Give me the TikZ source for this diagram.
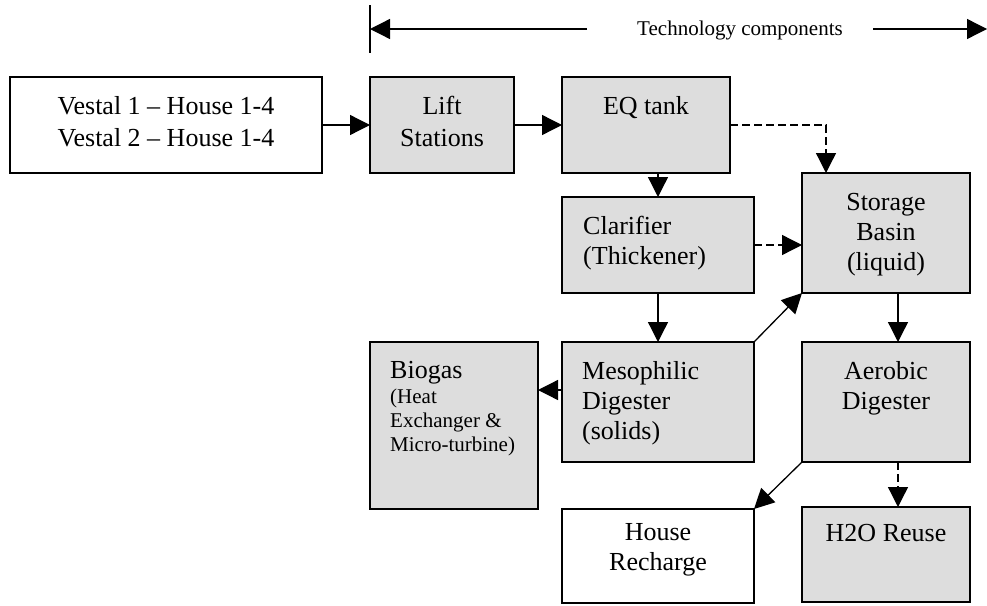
\documentclass[tikz,border=0pt]{standalone}
\usepackage{fontspec}
\setmainfont{Liberation Serif}
\usetikzlibrary{arrows.meta}
\definecolor{boxgray}{RGB}{221,221,221}
\begin{document}
\begin{tikzpicture}[x=1pt,y=-1pt,
  box/.style={draw=black, line width=2pt, fill=boxgray, inner sep=0pt, outer sep=0pt},
  wbox/.style={box, fill=white},
  big/.style={font=\fontsize{26}{30}\selectfont, inner sep=0pt},
  bigwide/.style={font=\fontsize{26}{32}\selectfont, inner sep=0pt},
  small/.style={font=\fontsize{21}{24}\selectfont, inner sep=0pt},
  conn/.style={line width=1.3pt, -{Triangle[length=20pt,width=20pt]}},
  dconn/.style={conn, dash pattern=on 8pt off 4pt},
  plain/.style={line width=1.3pt},
]
\useasboundingbox (0,0) rectangle (987,605);

% boxes
\node[wbox, minimum width=312pt, minimum height=96pt] (vestal) at (166,125) {};
\node[box, minimum width=144pt, minimum height=96pt] (lift) at (442,125) {};
\node[box, minimum width=168pt, minimum height=96pt] (eq) at (646,125) {};
\node[box, minimum width=192pt, minimum height=96pt] (clar) at (658,245) {};
\node[box, minimum width=168pt, minimum height=120pt] (stor) at (886,233) {};
\node[box, minimum width=192pt, minimum height=120pt] (meso) at (658,402) {};
\node[box, minimum width=168pt, minimum height=167pt] (bio) at (454,425.5) {};
\node[box, minimum width=168pt, minimum height=120pt] (aero) at (886,402) {};
\node[wbox, minimum width=192pt, minimum height=94pt] (house) at (658,556) {};
\node[box, minimum width=168pt, minimum height=95pt] (h2o) at (886,554.5) {};

% texts
\node[bigwide, align=center, anchor=north] (vestalt) at (166,96) {Vestal 1 – House 1-4\\Vestal 2 – House 1-4};
\node[bigwide, align=center, anchor=north] (liftt) at (442,96) {Lift\\Stations};
\node[big, anchor=north] (eqt) at (646,96) {EQ tank};
\node[big, align=left, anchor=north west] (clart) at (583,216) {Clarifier\\(Thickener)};
\node[big, align=center, anchor=north] (stort) at (886,193) {Storage\\Basin\\(liquid)};
\node[big, align=left, anchor=north west] (mesot) at (582,361) {Mesophilic\\Digester\\(solids)};
\node[big, anchor=north west] (biot) at (390,361) {Biogas};
\node[small, align=left, anchor=north west] (biost) at (390,389) {(Heat\\Exchanger \&\\Micro-turbine)};
\node[big, align=center, anchor=north] (aerot) at (886,361) {Aerobic\\Digester};
\node[big, align=center, anchor=north] (houset) at (658,523) {House\\Recharge};
\node[big, anchor=north] (h2ot) at (886,524) {H2O Reuse};

% top range
\node[small] (tech) at (740,30) {Technology components};
\coordinate (vtop) at (370,5);
\coordinate (vbot) at (370,53);
\coordinate (la) at (587,29);
\coordinate (ltip) at (370,29);
\coordinate (ra) at (873,29);
\coordinate (rtip) at (987,29);
\draw[plain] (vtop) -- (vbot);
\draw[conn] (la) -- (ltip);
\draw[conn] (ra) -- (rtip);

% connectors
\draw[conn] (vestal.east) -- (lift.west);
\draw[conn] (lift.east) -- (eq.west);
\draw[conn] (eq.south -| clar.north) -- (clar.north);
\draw[dconn] (eq.east) -| ([xshift=-60pt]stor.north);
\draw[dconn] (clar.east) -- (stor.west |- clar.east);
\draw[conn] (clar.south) -- (meso.north);
\draw[conn] (meso.north east) -- (stor.south west);
\draw[conn] ([yshift=12pt]meso.west) -- ([yshift=12pt]meso.west -| bio.east);
\draw[conn] ([xshift=12pt]stor.south) -- ([xshift=12pt]stor.south |- aero.north);
\draw[conn] (aero.south west) -- (house.north east);
\draw[dconn] ([xshift=12pt]aero.south) -- ([xshift=12pt]aero.south |- h2o.north);
\end{tikzpicture}
\end{document}
